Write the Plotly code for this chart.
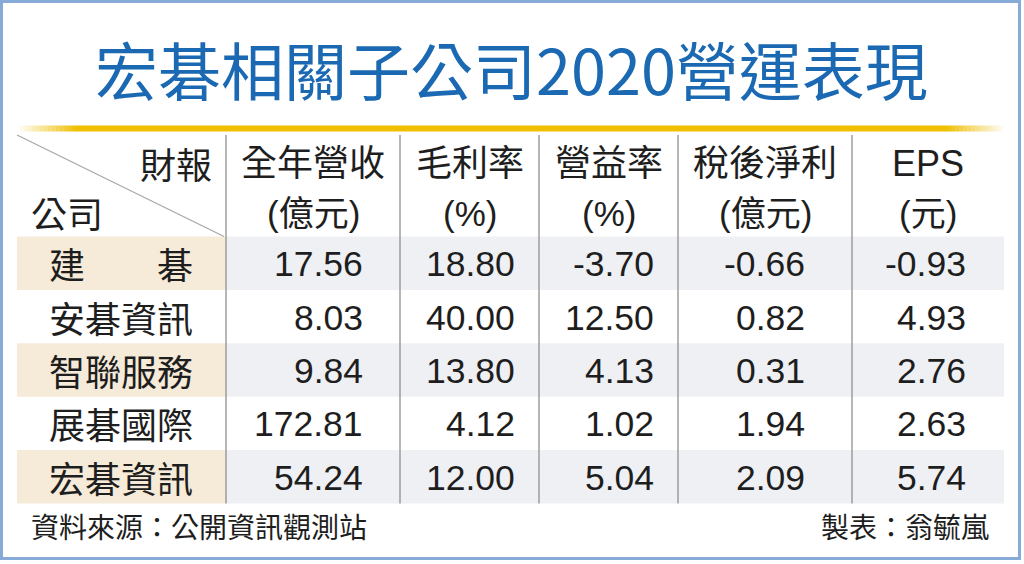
import plotly.graph_objects as go

# 宏碁相關子公司 2020 年營運數據
companies = ["建\u3000\u3000碁", "安碁資訊", "智聯服務", "展碁國際", "宏碁資訊"]
revenue = [17.56, 8.03, 9.84, 172.81, 54.24]        # 全年營收(億元)
gross_margin = [18.80, 40.00, 13.80, 4.12, 12.00]   # 毛利率(%)
op_margin = [-3.70, 12.50, 4.13, 1.02, 5.04]        # 營益率(%)
net_income = [-0.66, 0.82, 0.31, 1.94, 2.09]        # 稅後淨利(億元)
eps = [-0.93, 4.93, 2.76, 2.63, 5.74]               # EPS(元)

headers = ["全年營收", "毛利率", "營益率", "稅後淨利", "EPS"]
units = ["(億元)", "(%)", "(%)", "(億元)", "(元)"]

title = "宏碁相關子公司2020營運表現"
source = "資料來源：公開資訊觀測站"
maker = "製表：翁毓嵐"

columns = [revenue, gross_margin, op_margin, net_income, eps]

# layout of the table (pixels, y downwards)
W, H = 1024, 564
col_edges = [17, 226, 400, 539, 678, 852, 1004]
value_right = [365, 517, 656, 807, 968]
table_top = 135
head_bottom = 236.5
row_h = 53.4

CJK = "Noto Sans CJK TC"
NUM = "Liberation Sans, Arial, Noto Sans CJK TC"
TXT = "#1e1e1e"
BLUE = "#1b69b2"
GOLD = "#f0bf00"
BEIGE = "#f6ebd9"
GREY = "#eef0f4"
RULE = "#8f8f8f"

shapes = []
annotations = []


def row_center(i):
    return head_bottom + (i + 0.5) * row_h


# striped rows
for i in range(len(companies)):
    if i % 2 == 0:
        y0 = head_bottom + i * row_h
        y1 = y0 + row_h
        shapes.append(dict(type="rect", x0=col_edges[0], x1=col_edges[1], y0=y0, y1=y1,
                           fillcolor=BEIGE, line_width=0, layer="below"))
        shapes.append(dict(type="rect", x0=col_edges[1], x1=col_edges[-1], y0=y0, y1=y1,
                           fillcolor=GREY, line_width=0, layer="below"))

table_bottom = head_bottom + len(companies) * row_h

# column rules
for x in col_edges[1:-1]:
    shapes.append(dict(type="line", x0=x, x1=x, y0=table_top, y1=table_bottom,
                       line=dict(color=RULE, width=1.3)))

# diagonal in the corner cell
shapes.append(dict(type="line", x0=col_edges[0], y0=table_top, x1=col_edges[1] - 2, y1=head_bottom,
                   line=dict(color="#a8a8a8", width=1.3)))

# gold rule under the title, fading at both ends
rule_y, rule_x0, rule_x1, fade, steps = 128.5, 20, 1003, 55, 14
for k in range(steps):
    op = (k + 1) / (steps + 1)
    seg = fade / steps
    shapes.append(dict(type="line", x0=rule_x0 + k * seg, x1=rule_x0 + (k + 1) * seg,
                       y0=rule_y, y1=rule_y, opacity=op, line=dict(color=GOLD, width=6)))
    shapes.append(dict(type="line", x0=rule_x1 - (k + 1) * seg, x1=rule_x1 - k * seg,
                       y0=rule_y, y1=rule_y, opacity=op, line=dict(color=GOLD, width=6)))
shapes.append(dict(type="line", x0=rule_x0 + fade, x1=rule_x1 - fade, y0=rule_y, y1=rule_y,
                   line=dict(color=GOLD, width=6)))

# outer frame
shapes.append(dict(type="rect", x0=1.5, y0=1.5, x1=1019.5, y1=558.5,
                   line=dict(color="#86abd6", width=3)))

# title
annotations.append(dict(x=511, y=67, text=title, showarrow=False, xanchor="center", yanchor="middle",
                        font=dict(family=CJK, size=63, color=BLUE)))

# header corner
annotations.append(dict(x=214, y=163, text="財報", showarrow=False, xanchor="right", yanchor="middle",
                        font=dict(family=CJK, size=36, color=TXT)))
annotations.append(dict(x=29, y=212, text="公司", showarrow=False, xanchor="left", yanchor="middle",
                        font=dict(family=CJK, size=36, color=TXT)))

# header cells
for j, (h, u) in enumerate(zip(headers, units)):
    cx = (col_edges[j + 1] + col_edges[j + 2]) / 2
    annotations.append(dict(x=cx, y=163, text=h, showarrow=False, xanchor="center", yanchor="middle",
                            font=dict(family=NUM, size=36, color=TXT)))
    annotations.append(dict(x=cx, y=213, text=u, showarrow=False, xanchor="center", yanchor="middle",
                            font=dict(family=NUM, size=35, color=TXT)))

# company names
for i, name in enumerate(companies):
    annotations.append(dict(x=(col_edges[0] + col_edges[1]) / 2 - 1, y=row_center(i), text=name,
                            showarrow=False, xanchor="center", yanchor="middle",
                            font=dict(family=CJK, size=36, color=TXT)))

# values
for j, col in enumerate(columns):
    for i, v in enumerate(col):
        annotations.append(dict(x=value_right[j], y=row_center(i) + 1, text=f"{v:.2f}",
                                showarrow=False, xanchor="right", yanchor="middle",
                                font=dict(family=NUM, size=35.5, color=TXT)))

# footer
annotations.append(dict(x=29, y=526, text=source, showarrow=False, xanchor="left", yanchor="middle",
                        font=dict(family=CJK, size=28, color=TXT)))
annotations.append(dict(x=991, y=526, text=maker, showarrow=False, xanchor="right", yanchor="middle",
                        font=dict(family=CJK, size=28, color=TXT)))

fig = go.Figure()
fig.update_layout(
    width=W,
    height=H,
    margin=dict(l=0, r=0, t=0, b=0),
    paper_bgcolor="white",
    plot_bgcolor="white",
    showlegend=False,
    shapes=shapes,
    annotations=annotations,
    xaxis=dict(range=[0, W], visible=False, fixedrange=True),
    yaxis=dict(range=[H, 0], visible=False, fixedrange=True),
)

# page body has a default margin; drop it so the figure fills the window
fig.write_html(
    "out.html",
    config={"displayModeBar": False},
    post_script="document.body.style.margin = '0';",
)
